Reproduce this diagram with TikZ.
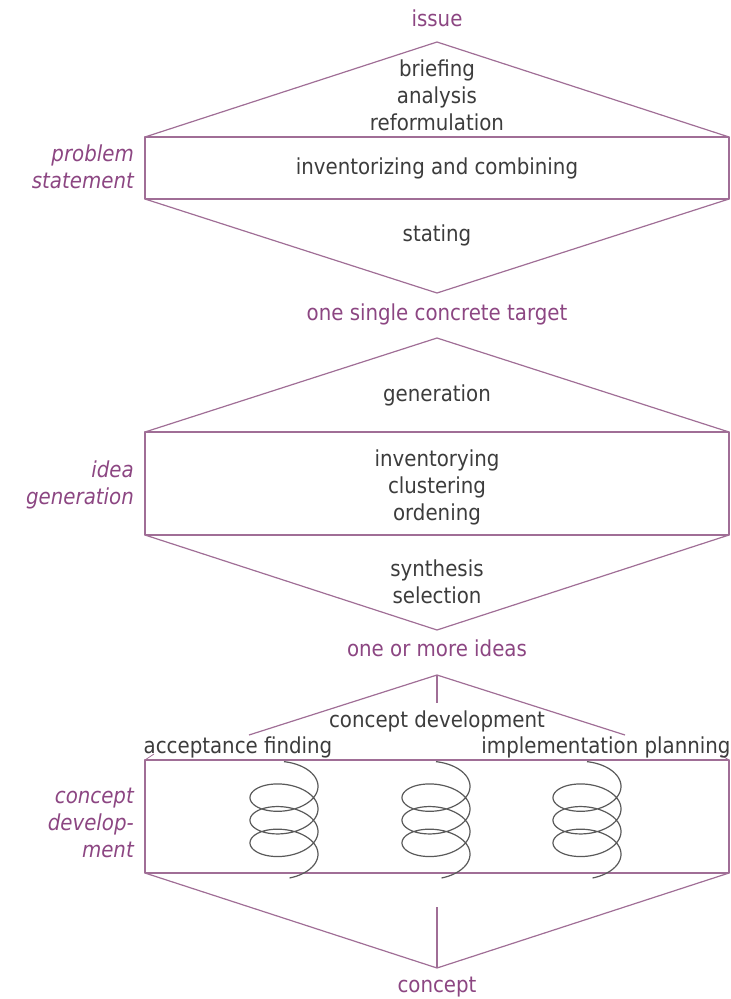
\documentclass[tikz,border=0pt]{standalone}
\usepackage{fontspec}
\setmainfont{DejaVu Sans Condensed}
\definecolor{linecol}{RGB}{160,110,150}
\definecolor{labcol}{RGB}{140,70,130}
\definecolor{txtcol}{RGB}{60,60,60}
\tikzset{
  shape line/.style={draw=linecol, line width=1.2pt, line join=round},
  body/.style={text=txtcol, font=\fontsize{22}{27}\selectfont, inner sep=0pt, align=center},
  outlabel/.style={text=labcol, font=\fontsize{22}{27}\selectfont, inner sep=0pt, align=center},
  sidelabel/.style={text=labcol, font=\fontsize{22}{27}\selectfont\itshape, inner sep=0pt, align=right, anchor=east},
  coil/.style={draw=txtcol!85, line width=1.2pt}
}
\begin{document}
\begin{tikzpicture}[x=1pt,y=-1pt]
\useasboundingbox (0,0) rectangle (731,999);
% ---------- section 1
\coordinate (a1) at (437,42);
\coordinate (l1t) at (145,137); \coordinate (r1t) at (729,137);
\coordinate (l1b) at (145,199); \coordinate (r1b) at (729,199);
\coordinate (b1) at (437,293);
\draw[shape line] (l1t) -- (a1) -- (r1t);
\draw[shape line] (l1t) rectangle (r1b);
\draw[shape line] (l1b) -- (b1) -- (r1b);
\node[outlabel] (issue) at (437,18) {issue};
\node[body] (brief) at (437,95) {briefing\\analysis\\reformulation};
\node[body] (invcomb) at (437,168) {inventorizing and combining};
\node[body] (stating) at (437,235) {stating};
\node[outlabel] (target) at (437,314) {one single concrete target};
\node[sidelabel] (ps) at (134,167) {problem\\statement};
% ---------- section 2
\coordinate (a2) at (437,338);
\coordinate (l2t) at (145,432); \coordinate (r2t) at (729,432);
\coordinate (l2b) at (145,535); \coordinate (r2b) at (729,535);
\coordinate (b2) at (437,630);
\draw[shape line] (l2t) -- (a2) -- (r2t);
\draw[shape line] (l2t) rectangle (r2b);
\draw[shape line] (l2b) -- (b2) -- (r2b);
\node[body] (gen) at (437,395) {generation};
\node[body] (inv) at (437,487) {inventorying\\clustering\\ordening};
\node[body] (syn) at (437,582) {synthesis\\selection};
\node[outlabel] (ideas) at (437,648) {one or more ideas};
\node[sidelabel] (ig) at (134,485) {idea\\generation};
% ---------- section 3
\coordinate (a3) at (437,675);
\coordinate (a3s) at (437,703);
\coordinate (fl) at (249,735); \coordinate (fr) at (625,735);
\coordinate (l3t) at (145,760); \coordinate (r3t) at (729,760);
\coordinate (l3b) at (145,873); \coordinate (r3b) at (729,873);
\coordinate (b3) at (437,968);
\coordinate (b3s) at (437,907);
\draw[shape line] (fl) -- (a3) -- (fr);
\draw[shape line] (a3) -- (a3s);
\draw[shape line] (l3t) rectangle (r3b);
\draw[shape line] (l3b) -- (b3) -- (r3b);
\draw[shape line] (b3s) -- (b3);
\draw[shape line, line width=0.8pt] (l3t) -- ++(9,-6);
\draw[shape line, line width=0.8pt] (r3t) -- ++(-8,-5);
\node[body] (cdev) at (437,721) {concept development};
\node[body] (acc) at (238,747) {acceptance finding};
\node[body] (impl) at (606,747) {implementation planning};
\node[outlabel] (concept) at (437,987) {concept};
\node[sidelabel] (cd) at (134,823) {concept\\develop-\\ment};
% coils
\foreach \cx in {284,436,587}{
  \draw[coil] plot[domain=1.5708:23.4, samples=300, smooth, variable=\t]
    ({\cx - 34*cos(\t r)}, {775 + 3.6*\t - 19*sin(\t r)});
}
\end{tikzpicture}
\end{document}
